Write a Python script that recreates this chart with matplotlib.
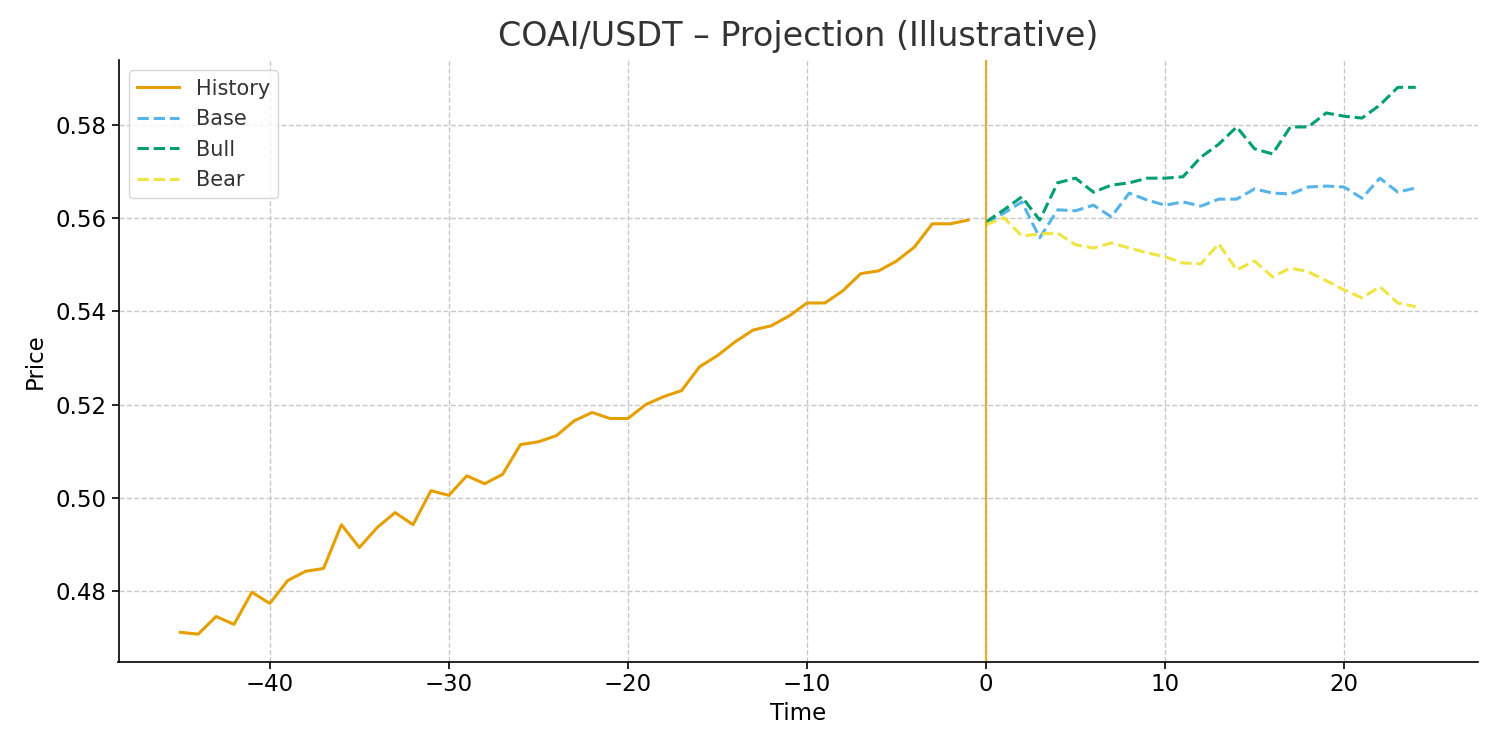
import matplotlib
matplotlib.use('Agg')
import matplotlib.pyplot as plt
import numpy as np

hist_t = np.arange(-45, 0)
hist_price = [0.4711, 0.4707, 0.4745, 0.4728, 0.4797, 0.4773, 0.4822, 0.4842, 0.4848, 0.4942,
              0.4893, 0.4936, 0.4968, 0.4942, 0.5015, 0.5005, 0.5047, 0.5030, 0.5050, 0.5114,
              0.5120, 0.5133, 0.5165, 0.5183, 0.5170, 0.5170, 0.5200, 0.5217, 0.5230, 0.5281,
              0.5305, 0.5335, 0.5360, 0.5369, 0.5390, 0.5418, 0.5418, 0.5444, 0.5481, 0.5487,
              0.5508, 0.5538, 0.5588, 0.5588, 0.5596]

proj_t = np.arange(0, 25)
base = [0.5590, 0.5611, 0.5635, 0.5558, 0.5618, 0.5616, 0.5628, 0.5603, 0.5654, 0.5639,
        0.5628, 0.5635, 0.5626, 0.5641, 0.5641, 0.5663, 0.5654, 0.5652, 0.5667, 0.5669,
        0.5667, 0.5643, 0.5686, 0.5656, 0.5665]
bull = [0.5592, 0.5618, 0.5646, 0.5596, 0.5676, 0.5686, 0.5656, 0.5671, 0.5676, 0.5686,
        0.5686, 0.5689, 0.5731, 0.5759, 0.5796, 0.5749, 0.5738, 0.5796, 0.5796, 0.5826,
        0.5819, 0.5815, 0.5843, 0.5881, 0.5881]
bear = [0.5586, 0.5601, 0.5562, 0.5566, 0.5568, 0.5543, 0.5536, 0.5547, 0.5536, 0.5526,
        0.5517, 0.5504, 0.5502, 0.5545, 0.5489, 0.5508, 0.5474, 0.5493, 0.5485, 0.5466,
        0.5446, 0.5429, 0.5453, 0.5418, 0.5410]

fig, ax = plt.subplots(figsize=(15, 7.5), dpi=100)
fig.subplots_adjust(left=0.079, right=0.985, top=0.92, bottom=0.118)

ax.plot(hist_t, hist_price, color='#E69F00', lw=2.2, label='History')
ax.plot(proj_t, base, color='#56B4E9', lw=2.2, ls='--', label='Base')
ax.plot(proj_t, bull, color='#009E73', lw=2.2, ls='--', label='Bull')
ax.plot(proj_t, bear, color='#F0E442', lw=2.2, ls='--', label='Bear')
ax.axvline(0, color='#E69F00', lw=1.6, alpha=0.8)

ax.set_title('COAI/USDT – Projection (Illustrative)', fontsize=24, color='#333333', pad=10)
ax.set_xlabel('Time', fontsize=16.5)
ax.set_ylabel('Price', fontsize=16.5, labelpad=6)
ax.tick_params(labelsize=16.5, width=1.2, length=5)
ax.grid(True, ls='--', color='#c8c8c8', lw=1.0)
for s in ['left', 'bottom']:
    ax.spines[s].set_linewidth(1.2)
ax.spines['top'].set_visible(False)
ax.spines['right'].set_visible(False)
leg = ax.legend(loc='upper left', fontsize=15)
for t in leg.get_texts():
    t.set_color('#333333')

plt.savefig('out.png')
